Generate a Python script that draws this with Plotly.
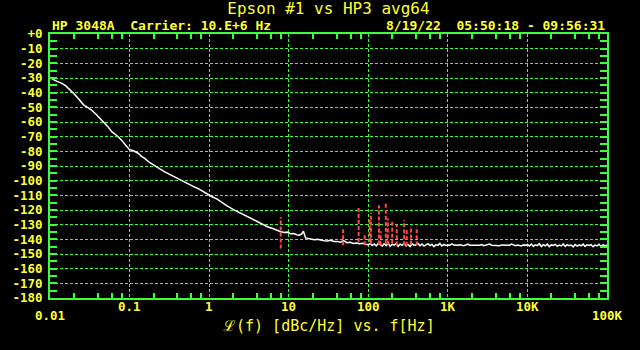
import numpy as np
import plotly.graph_objects as go

# ---------------- data ----------------
freq_slope = [0.01, 0.0103, 0.0115, 0.0128, 0.0141, 0.0158, 0.0178, 0.0198, 0.0224, 0.0251,
              0.0264, 0.0300, 0.0335, 0.0376, 0.0422, 0.0469, 0.0531, 0.0596, 0.0668, 0.0708,
              0.0794, 0.089, 0.099, 0.112, 0.128, 0.141, 0.155, 0.178, 0.207, 0.240,
              0.277, 0.32, 0.369, 0.42, 0.49, 0.56, 0.63, 0.72, 0.84, 0.96,
              1.12, 1.26, 1.41, 1.68, 1.97, 2.24, 2.51, 2.9, 3.3, 3.69,
              4.1, 4.47, 5.0, 5.4, 6.3, 7.1, 7.94, 8.9, 9.6, 10.5,
              11.6, 12.6, 13.5, 14.5, 15.3, 16.3, 17.8, 19.0, 20.9, 23.0,
              25.5, 28.0, 30.5, 33.5, 37.0, 40.5, 44.7, 49, 54, 59,
              65, 71, 78, 85, 93]
level_slope = [-29.8, -30.0, -31.6, -32.6, -33.7, -35.4, -37.8, -40.5, -43.6, -46.8,
               -48.3, -50.2, -52.0, -54.6, -57.3, -59.9, -63.0, -66.6, -68.5, -69.7,
               -72.4, -75.8, -78.7, -79.6, -81.3, -83.4, -84.8, -87.6, -90.1, -92.0,
               -94.0, -95.8, -97.4, -99.1, -100.8, -102.5, -103.9, -105.3, -107.6, -109.6,
               -111.3, -112.6, -114.6, -117.2, -119.4, -120.9, -122.3, -124.0, -125.6, -127.0,
               -128.1, -129.2, -130.4, -131.4, -132.6, -133.8, -134.8, -135.4, -135.1, -136.2,
               -136.0, -136.9, -137.2, -136.4, -134.5, -139.0, -139.3, -139.8, -140.2, -140.0,
               -140.8, -141.0, -141.2, -140.6, -141.5, -141.4, -141.9, -140.9, -142.3, -142.0,
               -142.8, -142.5, -143.0, -142.7, -143.3]

freq_floor = [100, 106, 112, 119, 126, 133, 141, 150, 158, 168, 178, 188, 200, 211, 224, 237, 251, 266, 282, 299,
              316, 335, 355, 376, 398, 422, 447, 473, 501, 531, 562, 596, 631, 668, 708, 750, 794, 841, 891, 944,
              1000, 1059, 1122, 1189, 1259, 1334, 1413, 1496, 1585, 1679, 1778, 1884, 1995, 2113, 2239, 2371, 2512, 2661, 2818, 2985,
              3162, 3350, 3548, 3758, 3981, 4217, 4467, 4732, 5012, 5309, 5623, 5957, 6310, 6683, 7079, 7499, 7943, 8414, 8913, 9441,
              10000, 10593, 11220, 11885, 12589, 13335, 14125, 14962, 15849, 16788, 17783, 18836, 19953, 21135, 22387, 23714, 25119, 26607, 28184, 29854,
              31623, 33497, 35481, 37584, 39811, 42170, 44668, 47315, 50119, 53088, 56234, 59566, 63096, 66834, 70795, 74989, 79433, 84140, 89125, 94406,
              100000]
level_floor = [-143.6, -142.9, -144.2, -143.1, -144.5, -142.8, -143.9, -144.6, -143.0, -144.3,
               -142.6, -144.8, -143.4, -144.0, -142.9, -144.7, -143.3, -144.1, -142.7, -144.5,
               -143.5, -144.9, -143.0, -144.2, -143.7, -142.8, -144.4, -143.2, -144.6, -143.9,
               -142.9, -144.3, -143.4, -145.0, -143.6, -144.1, -142.8, -144.5, -143.5, -144.2,
               -143.8, -144.0, -143.1, -143.9, -144.2, -144.0, -143.7, -144.1, -144.3, -143.9,
               -143.2, -144.0, -144.1, -143.8, -144.2, -144.0, -144.0, -143.6, -144.3, -144.1,
               -143.9, -143.2, -144.0, -144.2, -143.9, -144.1, -144.4, -143.8, -144.0, -143.7,
               -144.2, -144.1, -143.3, -144.0, -144.3, -143.9, -144.0, -144.5, -143.8, -144.1,
               -143.5, -144.6, -143.2, -144.8, -143.7, -144.3, -143.0, -144.9, -143.6, -144.4,
               -143.3, -145.0, -143.8, -144.2, -143.4, -144.7, -143.9, -144.5, -143.1, -144.8,
               -143.6, -144.3, -143.9, -145.1, -143.5, -144.6, -143.8, -144.4, -143.3, -144.9,
               -143.7, -144.2, -143.6, -145.0, -143.9, -144.5, -143.4, -144.7, -143.8, -144.3,
               -144.0]

spur_freq = [7.94, 48.3, 75.6, 90, 104, 108, 136, 143, 166, 176, 200, 228, 282, 304, 345, 406]
spur_top = [-124.7, -132.6, -117.4, -136.7, -125.8, -121.7, -116.7, -134.5, -114.5, -125.8,
            -127.0, -129.9, -127.0, -132.6, -130.9, -131.5]
spur_bottom = [-146.3, -144.0, -141.8, -144.0, -141.8, -143.0, -143.5, -144.0, -143.0, -143.5,
               -143.0, -144.0, -144.0, -144.5, -143.5, -144.0]

x_tick_vals = [0.01, 0.1, 1, 10, 100, 1000, 10000, 100000]
x_tick_text = ["0.01", "0.1", "1", "10", "100", "1K", "10K", "100K"]
x_tick_low = [True, False, False, False, False, False, False, True]
x_minor_mult = [2, 4, 6, 8]

y_tick_vals = [0, -10, -20, -30, -40, -50, -60, -70, -80, -90, -100,
               -110, -120, -130, -140, -150, -160, -170, -180]
y_tick_text = ["+0", "-10", "-20", "-30", "-40", "-50", "-60", "-70", "-80", "-90", "-100",
               "-110", "-120", "-130", "-140", "-150", "-160", "-170", "-180"]

title_text = "Epson #1 vs HP3 avg64"
sub_left = "HP 3048A  Carrier: 10.E+6 Hz"
sub_right = "8/19/22  05:50:18 - 09:56:31"
x_title = "ℒ(f) [dBc/Hz] vs. f[Hz]"

# ---------------- styling ----------------
GREEN = "#3cff3c"
YELLOW = "#ffff33"
RED = "#ff4848"
MONO = "DejaVu Sans Mono"

fig = go.Figure()

fig.add_trace(go.Scatter(
    x=freq_slope + freq_floor, y=level_slope + level_floor,
    mode="lines", line=dict(color="white", width=1.5), hoverinfo="skip", showlegend=False))

sx, sy = [], []
for f, t, b in zip(spur_freq, spur_top, spur_bottom):
    sx += [f, f, None]
    sy += [b, t, None]
fig.add_trace(go.Scatter(
    x=sx, y=sy, mode="lines", line=dict(color=RED, width=2, dash="4px,2px"),
    hoverinfo="skip", showlegend=False))

minor_vals = [d * m for d in x_tick_vals[:-1] for m in x_minor_mult]

fig.update_xaxes(
    type="log", range=[np.log10(x_tick_vals[0]), np.log10(x_tick_vals[-1])],
    tickmode="array", tickvals=x_tick_vals, showticklabels=False, ticks="",
    showgrid=True, gridcolor=GREEN, griddash="3px,2px", gridwidth=1,
    showline=True, linecolor=GREEN, linewidth=2, mirror="ticks", zeroline=False,
    minor=dict(tickvals=minor_vals, ticks="inside", ticklen=5, tickcolor=GREEN,
               tickwidth=1.5, showgrid=False),
)
fig.update_yaxes(
    range=[y_tick_vals[-1], y_tick_vals[0]],
    tickmode="array", tickvals=y_tick_vals, ticktext=y_tick_text,
    ticks="inside", ticklen=7, tickcolor=GREEN, tickwidth=1.5,
    tickfont=dict(family=MONO, size=12.5, color=YELLOW, weight="bold"),
    ticklabelstandoff=3,
    showgrid=True, gridcolor=GREEN, griddash="3px,2px", gridwidth=1,
    showline=True, linecolor=GREEN, linewidth=2, mirror="ticks", zeroline=False,
    minor=dict(dtick=5, ticks="inside", ticklen=7, tickcolor=GREEN, tickwidth=1.5,
               showgrid=False),
)

annotations = []
for v, t, low in zip(x_tick_vals, x_tick_text, x_tick_low):
    annotations.append(dict(
        x=np.log10(v), xref="x", y=0, yref="paper", yanchor="middle", xanchor="center",
        yshift=-17 if low else -8, text=t, showarrow=False,
        font=dict(family=MONO, size=12.5, color=YELLOW, weight="bold")))
annotations.append(dict(
    x=0, xref="paper", y=1, yref="paper", xanchor="left", yanchor="middle", yshift=9,
    text=sub_left, showarrow=False,
    font=dict(family=MONO, size=13, color=YELLOW, weight="bold")))
annotations.append(dict(
    x=1, xref="paper", y=1, yref="paper", xanchor="right", yanchor="middle", yshift=9,
    text=sub_right, showarrow=False,
    font=dict(family=MONO, size=13, color=YELLOW, weight="bold")))
annotations.append(dict(
    x=0.5, xref="paper", y=0, yref="paper", xanchor="center", yanchor="middle", yshift=-28,
    text=x_title, showarrow=False,
    font=dict(family=MONO, size=15, color=YELLOW)))

fig.update_layout(
    width=640, height=350,
    margin=dict(l=48, r=33, t=34, b=52),
    paper_bgcolor="black", plot_bgcolor="black",
    title=dict(text=title_text, x=0.5, xref="paper", xanchor="center",
               y=1 - 8.5 / 350, yref="container", yanchor="middle",
               font=dict(family=MONO, size=16, color=YELLOW)),
    annotations=annotations,
    showlegend=False,
)

fig.write_html("out.html")
